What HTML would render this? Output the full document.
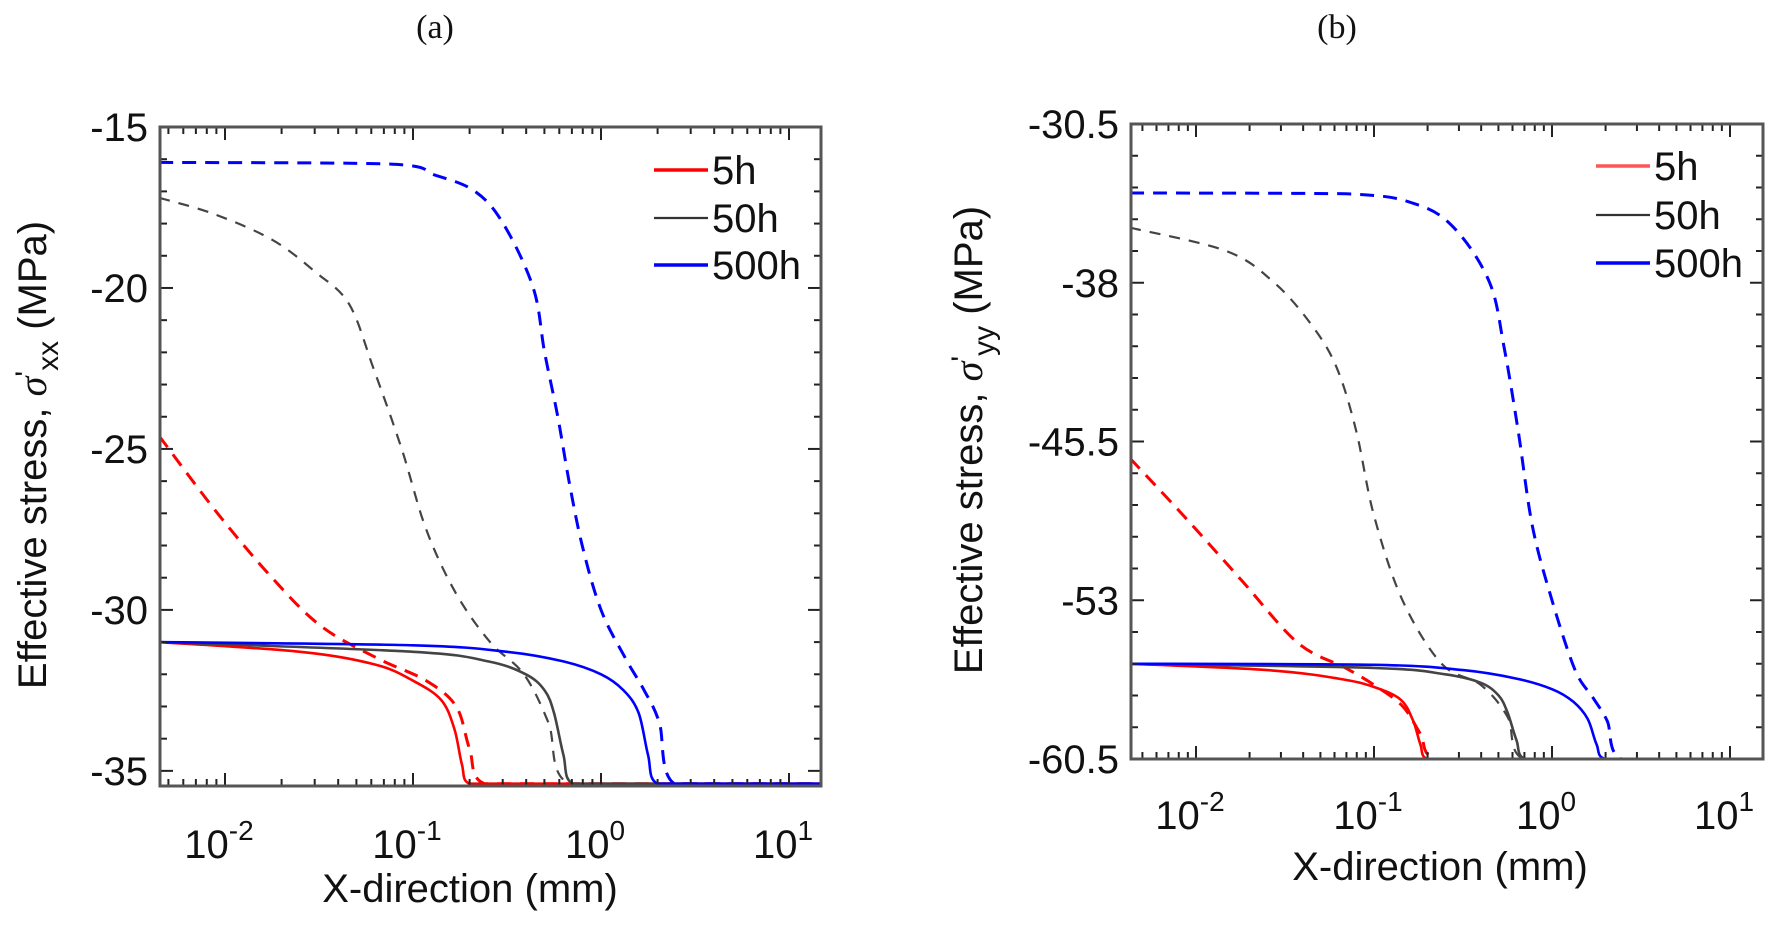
<!DOCTYPE html>
<html><head><meta charset="utf-8">
<style>
html,body{margin:0;padding:0;background:#fff;}
svg{display:block;font-family:"Liberation Sans",Arial,sans-serif;}
</style></head>
<body>
<svg id="fig" width="1770" height="927" viewBox="0 0 1770 927" xmlns="http://www.w3.org/2000/svg"></svg>
<script>
// ---------- data (x in log10(mm), y in MPa) ----------
const seriesNames = ["5h","50h","500h"];
const seriesColors = ["#ff0000","#444444","#0000ff"];
const legendColors = ["#ff0000","#333333","#0000ff"];

// panel (a) sigma'xx
const aRedSolidX = [-2.35,-1.6,-1.2,-1.0,-0.85,-0.78,-0.74,-0.70,1.17];
const aRedSolidY = [-31.0,-31.3,-31.7,-32.2,-32.8,-33.7,-34.8,-35.4,-35.4];
const aRedDashX = [-2.35,-2.04,-1.75,-1.49,-1.19,-0.93,-0.77,-0.70,-0.62,1.17];
const aRedDashY = [-24.6,-27.0,-29.0,-30.5,-31.5,-32.2,-33.0,-34.3,-35.4,-35.4];
const aBlkSolidX = [-2.35,-1.0,-0.6,-0.4,-0.3,-0.25,-0.20,-0.15,1.17];
const aBlkSolidY = [-31.0,-31.3,-31.6,-32.0,-32.5,-33.2,-34.5,-35.4,-35.4];
const aBlkDashX = [-2.35,-2.06,-1.75,-1.52,-1.34,-1.21,-1.06,-0.93,-0.77,-0.59,-0.41,-0.28,-0.17,1.17];
const aBlkDashY = [-17.2,-17.7,-18.5,-19.5,-20.5,-22.5,-25.0,-27.5,-29.5,-31.0,-32.0,-33.5,-35.4,-35.4];
const aBluSolidX = [-2.35,-1.0,-0.5,-0.2,0.0,0.12,0.20,0.25,0.30,1.17];
const aBluSolidY = [-31.0,-31.1,-31.3,-31.6,-32.0,-32.5,-33.2,-34.5,-35.4,-35.4];
const aBluDashX = [-2.35,-1.13,-0.88,-0.67,-0.52,-0.36,-0.30,-0.23,-0.17,-0.10,0.0,0.13,0.23,0.31,0.39,1.17];
const aBluDashY = [-16.1,-16.15,-16.5,-17.0,-18.0,-20.0,-22.0,-24.0,-26.0,-28.0,-30.0,-31.5,-32.5,-33.5,-35.4,-35.4];

// panel (b) sigma'yy
const bRedSolidX = [-2.37,-1.6,-1.2,-1.0,-0.85,-0.78,-0.74,-0.70,1.17];
const bRedSolidY = [-56.0,-56.3,-56.7,-57.1,-57.7,-58.7,-59.8,-60.5,-60.5];
const bRedDashX = [-2.37,-2.07,-1.75,-1.43,-1.16,-1.0,-0.84,-0.74,-0.65,1.17];
const bRedDashY = [-46.3,-49.0,-52.0,-55.0,-56.2,-57.0,-58.0,-59.3,-60.5,-60.5];
const bBlkSolidX = [-2.37,-1.0,-0.6,-0.4,-0.3,-0.25,-0.20,-0.15,1.17];
const bBlkSolidY = [-56.0,-56.2,-56.5,-56.9,-57.5,-58.3,-59.6,-60.5,-60.5];
const bBlkDashX = [-2.37,-1.83,-1.56,-1.35,-1.21,-1.10,-1.0,-0.84,-0.62,-0.40,-0.25,-0.16,1.17];
const bBlkDashY = [-35.4,-36.5,-38.0,-40.0,-42.0,-45.0,-49.0,-53.0,-56.0,-57.0,-58.5,-60.5,-60.5];
const bBluSolidX = [-2.37,-1.0,-0.5,-0.2,0.0,0.12,0.20,0.25,0.30,1.17];
const bBluSolidY = [-56.0,-56.05,-56.3,-56.7,-57.2,-57.8,-58.6,-59.8,-60.5,-60.5];
const bBluDashX = [-2.37,-1.16,-0.76,-0.54,-0.35,-0.27,-0.19,-0.11,0.0,0.13,0.23,0.31,0.39,1.17];
const bBluDashY = [-33.76,-33.8,-34.3,-35.5,-38.0,-41.0,-45.0,-49.5,-53.0,-56.3,-57.6,-58.7,-60.5,-60.5];

const aYTicks = [-15,-20,-25,-30,-35];
const aYTickLabels = ["-15","-20","-25","-30","-35"];
const bYTicks = [-30.5,-38,-45.5,-53,-60.5];
const bYTickLabels = ["-30.5","-38","-45.5","-53","-60.5"];
const xDecades = [-2,-1,0,1];

const NS="http://www.w3.org/2000/svg";
const svg=document.getElementById('fig');
function mk(tag,attrs,parent){const e=document.createElementNS(NS,tag);for(const k in attrs)e.setAttribute(k,attrs[k]);(parent||svg).appendChild(e);return e;}
function clamp(v,a,b){const lo=Math.min(a,b),hi=Math.max(a,b);return Math.max(lo,Math.min(hi,v));}

function smoothPath(pts){
  let d="M"+pts[0][0].toFixed(1)+","+pts[0][1].toFixed(1);
  for(let i=0;i<pts.length-1;i++){
    const p0=pts[i-1]||pts[i],p1=pts[i],p2=pts[i+1],p3=pts[i+2]||p2;
    let c1x=p1[0]+(p2[0]-p0[0])/6,c1y=p1[1]+(p2[1]-p0[1])/6;
    let c2x=p2[0]-(p3[0]-p1[0])/6,c2y=p2[1]-(p3[1]-p1[1])/6;
    c1x=clamp(c1x,p1[0],p2[0]);c2x=clamp(c2x,p1[0],p2[0]);
    c1y=clamp(c1y,p1[1],p2[1]);c2y=clamp(c2y,p1[1],p2[1]);
    d+=" C"+c1x.toFixed(1)+","+c1y.toFixed(1)+" "+c2x.toFixed(1)+","+c2y.toFixed(1)+" "+p2[0].toFixed(1)+","+p2[1].toFixed(1);
  }
  return d;
}

function panel(cfg){
  const g=mk('g',{});
  
  
  const {L,R,T,B,x0,dec,y0,y1}=cfg;
  const sx=v=>x0+(v+2)*dec;
  const sy=v=>T+(y0-v)/(y0-y1)*(B-T);
  const clip=mk('clipPath',{id:cfg.name+'-clip'},g);
  mk('rect',{x:L,y:T,width:R-L,height:B-T},clip);
  const curves=g.appendChild(document.createElementNS(NS,'g'));
  curves.setAttribute('clip-path','url(#'+cfg.name+'-clip)');
  cfg.series.forEach(s=>{
    const pts=s.x.map((v,i)=>[sx(v),sy(s.y[i])]);
    const grey=s.color==='#444444';
    const p=mk('path',{d:smoothPath(pts),fill:'none',stroke:s.color,'stroke-width':s.dash?(grey?2.2:3):2.6,'stroke-dasharray':s.dash?(grey?'11 9':'14 9'):'none','stroke-linejoin':'round'},curves);
    
    
  });
  const tk=mk('g',{stroke:'#222','stroke-width':2},g);
  for(let d=-3;d<=1;d++){
    for(let m=1;m<10;m++){
      const lv=d+Math.log10(m);const X=sx(lv);
      if(X<L+1||X>R-1)continue;
      const len=m===1?13:7;
      mk('line',{x1:X,y1:B,x2:X,y2:B-len},tk);
      mk('line',{x1:X,y1:T,x2:X,y2:T+len},tk);
    }
  }
  const st=cfg.minor;
  for(let v=y0;v>=y1-1e-6;v-=st){
    const Y=sy(v);const major=cfg.yTicks.some(t=>Math.abs(t-v)<1e-6);
    const len=major?13:7;
    mk('line',{x1:L,y1:Y,x2:L+len,y2:Y},tk);
    mk('line',{x1:R,y1:Y,x2:R-len,y2:Y},tk);
  }
  const fr=mk('rect',{x:L,y:T,width:R-L,height:B-T,fill:'none',stroke:'#555','stroke-width':3},g);
  
  
  cfg.yTicks.forEach((v,i)=>{
    const t=mk('text',{x:L-12,y:sy(v)+14,'text-anchor':'end','font-size':40,fill:'#111'},g);
    t.textContent=cfg.yLabels[i];
    
    
  });
  xDecades.forEach(d=>{
    const t=mk('text',{x:sx(d)-6,y:cfg.xlabY,'text-anchor':'middle','font-size':40,fill:'#111'},g);
    t.textContent='10';
    const sp=mk('tspan',{dy:-18,'font-size':28},t);sp.textContent=String(d);
    
    
  });
  const xt=mk('text',{x:cfg.xtX,y:cfg.xtY,'text-anchor':'middle','font-size':40,fill:'#111'},g);
  xt.textContent='X-direction (mm)';
  
  
  const yt=mk('text',{transform:'translate('+cfg.ytX+','+cfg.ytY+') rotate(-90)','text-anchor':'middle','font-size':40,fill:'#111'},g);
  
  
  let s1=mk('tspan',{},yt);s1.textContent='Effective stress, ';
  let s2=mk('tspan',{'font-style':'italic','font-family':'"Liberation Serif",serif'},yt);s2.textContent='σ';
  let s3=mk('tspan',{dy:-10,'font-size':30},yt);s3.textContent="'";
  let s4=mk('tspan',{dy:22,'font-size':30},yt);s4.textContent=cfg.sub;
  let s5=mk('tspan',{dy:-12},yt);s5.textContent=' (MPa)';
  const pt=mk('text',{x:cfg.titleX,y:38,'text-anchor':'middle','font-size':34,'font-family':'"Liberation Serif",serif',fill:'#111'},g);
  pt.textContent=cfg.title;
  
  
  seriesNames.forEach((n,i)=>{
    const yy=cfg.legY[i];
    const ln=mk('line',{x1:cfg.legX,y1:yy,x2:cfg.legX+54,y2:yy,stroke:cfg.legCols[i],'stroke-width':i===1?2.2:3.5},g);
    
    
    const t=mk('text',{x:cfg.legX+58,y:yy+14,'font-size':40,fill:'#111'},g);
    t.textContent=n;
    
    
  });
}

panel({name:'panel-a',L:160,R:821,T:127,B:786,x0:225,dec:188,y0:-15,y1:-35.47,minor:1,
  yTicks:aYTicks,yLabels:aYTickLabels,xlabY:858,xtX:470,xtY:902,ytX:46,ytY:455,sub:'xx',
  title:'(a)',titleX:435,legX:654,legY:[170,218,265],legCols:legendColors,
  series:[
    {x:aRedDashX,y:aRedDashY,color:seriesColors[0],dash:true,nm:'curve-5h-dashed'},
    {x:aBlkDashX,y:aBlkDashY,color:seriesColors[1],dash:true,nm:'curve-50h-dashed'},
    {x:aBluDashX,y:aBluDashY,color:seriesColors[2],dash:true,nm:'curve-500h-dashed'},
    {x:aRedSolidX,y:aRedSolidY,color:seriesColors[0],dash:false,nm:'curve-5h'},
    {x:aBlkSolidX,y:aBlkSolidY,color:seriesColors[1],dash:false,nm:'curve-50h'},
    {x:aBluSolidX,y:aBluSolidY,color:seriesColors[2],dash:false,nm:'curve-500h'}
  ]});
panel({name:'panel-b',L:1131,R:1763,T:124,B:759,x0:1196,dec:178,y0:-30.5,y1:-60.5,minor:1.5,
  yTicks:bYTicks,yLabels:bYTickLabels,xlabY:829,xtX:1440,xtY:880,ytX:982,ytY:440,sub:'yy',
  title:'(b)',titleX:1337,legX:1596,legY:[166,215,263],legCols:["#ff5555","#333333","#0000ff"],
  series:[
    {x:bRedDashX,y:bRedDashY,color:seriesColors[0],dash:true,nm:'curve-5h-dashed'},
    {x:bBlkDashX,y:bBlkDashY,color:seriesColors[1],dash:true,nm:'curve-50h-dashed'},
    {x:bBluDashX,y:bBluDashY,color:seriesColors[2],dash:true,nm:'curve-500h-dashed'},
    {x:bRedSolidX,y:bRedSolidY,color:seriesColors[0],dash:false,nm:'curve-5h'},
    {x:bBlkSolidX,y:bBlkSolidY,color:seriesColors[1],dash:false,nm:'curve-50h'},
    {x:bBluSolidX,y:bBluSolidY,color:seriesColors[2],dash:false,nm:'curve-500h'}
  ]});
</script>
</body></html>
